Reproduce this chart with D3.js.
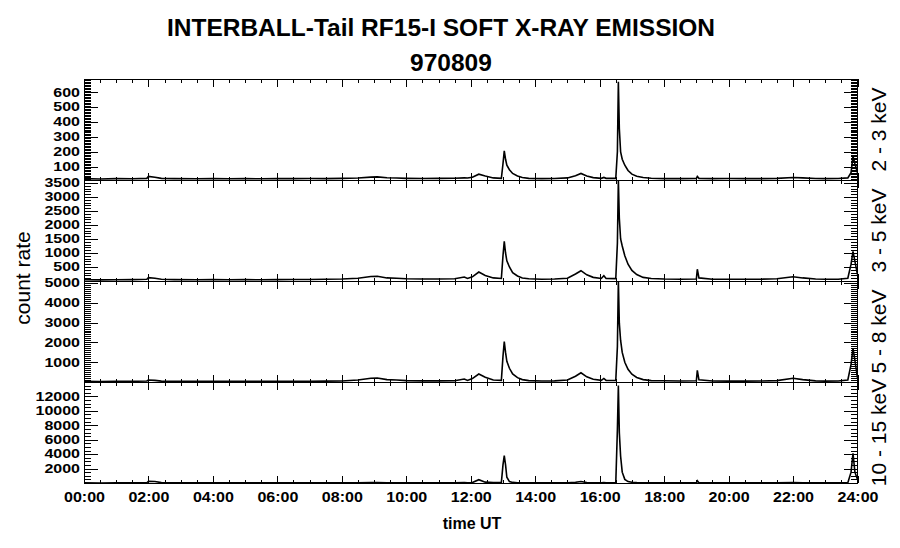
<!DOCTYPE html>
<meta charset="utf-8">
<head>
    <title>INTERBALL-Tail RF15-I SOFT X-RAY EMISSION</title>
    <style>
        body { margin: 0; background: #fff; }
        text { font-family: "Liberation Sans", Arial, sans-serif; fill: #000; }
    </style>
</head>
<body>
<svg id="chart" width="900" height="548"></svg>
<script src="https://d3js.org/d3.v7.min.js"></script>
<script>

    // time in hours UT
    var hours = [0, 0.5, 1, 1.5, 1.95, 2, 2.2, 2.4, 2.8, 3.5,
        4, 4.5, 5, 5.5, 6, 6.5, 7, 7.5, 8, 8.5,
        8.9, 9.1, 9.4, 9.7, 10, 10.5, 11, 11.5, 11.8, 11.9,
        12.05, 12.25, 12.45, 12.7, 12.95, 13, 13.04, 13.08, 13.12, 13.2,
        13.3, 13.45, 13.6, 13.8, 14.2, 14.6, 15, 15.25, 15.42, 15.6,
        15.8, 16.05, 16.13, 16.2, 16.5, 16.55, 16.58, 16.61, 16.65, 16.7,
        16.78, 16.88, 17, 17.15, 17.35, 17.6, 18, 18.5, 19, 19.03,
        19.08, 19.5, 20, 20.5, 21, 21.5, 22, 22.3, 22.7, 23,
        23.4, 23.7, 23.8, 23.86, 23.92, 24];

    var rate23 = [20, 18, 20, 19, 22, 35, 30, 22, 20, 19,
        21, 19, 20, 19, 20, 20, 21, 20, 22, 24,
        30, 32, 26, 24, 22, 21, 22, 23, 25, 24,
        30, 50, 38, 25, 22, 120, 206, 150, 110, 80,
        55, 38, 28, 22, 20, 21, 25, 40, 55, 38,
        27, 22, 28, 22, 22, 200, 670, 357, 200, 150,
        110, 75, 50, 36, 28, 23, 20, 20, 22, 35,
        22, 20, 21, 20, 20, 22, 28, 25, 21, 20,
        21, 25, 60, 170, 120, 60];

    var rate35 = [45, 40, 45, 50, 60, 120, 100, 60, 50, 45,
        50, 45, 50, 45, 50, 55, 55, 60, 70, 100,
        160, 170, 110, 100, 80, 70, 70, 80, 140, 90,
        150, 320, 200, 110, 90, 900, 1414, 1000, 720, 500,
        300, 180, 110, 80, 65, 70, 100, 250, 368, 220,
        130, 90, 190, 90, 85, 1346, 3607, 2240, 1500, 1250,
        900, 600, 380, 230, 130, 90, 70, 65, 70, 420,
        110, 65, 60, 60, 65, 80, 150, 110, 70, 60,
        65, 100, 600, 1057, 700, 225];

    var rate58 = [40, 35, 40, 45, 60, 110, 90, 55, 45, 40,
        45, 40, 45, 40, 45, 50, 50, 55, 60, 110,
        200, 210, 130, 110, 80, 65, 65, 75, 157, 90,
        180, 410, 250, 110, 90, 1300, 2040, 1500, 1050, 700,
        420, 230, 130, 80, 60, 65, 110, 300, 475, 270,
        150, 90, 190, 90, 85, 1790, 5090, 2970, 2100, 1500,
        1000, 650, 400, 240, 130, 80, 70, 60, 70, 600,
        120, 60, 55, 55, 60, 80, 200, 130, 65, 55,
        60, 110, 900, 1700, 1100, 200];

    var rate1015 = [20, 10, 15, 20, 40, 250, 200, 60, 20, 15,
        20, 15, 20, 15, 20, 25, 20, 25, 30, 40,
        60, 60, 40, 35, 30, 25, 25, 30, 50, 30,
        60, 460, 120, 50, 60, 2500, 3790, 2500, 800, 200,
        80, 40, 30, 25, 20, 25, 40, 100, 200, 60,
        35, 30, 60, 40, 40, 7400, 13500, 7000, 3700, 1500,
        500, 200, 100, 50, 30, 25, 20, 20, 25, 300,
        30, 20, 20, 20, 20, 25, 60, 40, 25, 20,
        20, 40, 1500, 4100, 1500, 500];

    var bandLabels = ["2 - 3 keV", "3 - 5 keV", "5 - 8 keV", "10 - 15 keV"];
    var yDomains = [[11, 689], [0, 3607], [10, 5090], [0, 14000]];
    var yMajor = [[100, 200, 300, 400, 500, 600],
        [500, 1000, 1500, 2000, 2500, 3000, 3500],
        [1000, 2000, 3000, 4000, 5000],
        [2000, 4000, 6000, 8000, 10000, 12000]];
    var yMinorStep = [10, 100, 100, 500];
    var xTicks = [0, 2, 4, 6, 8, 10, 12, 14, 16, 18, 20, 22, 24];
    var xTickLabels = ["00:00", "02:00", "04:00", "06:00", "08:00", "10:00", "12:00",
        "14:00", "16:00", "18:00", "20:00", "22:00", "24:00"];

    var svg = d3.select("#chart"),
        left = 84, right = 857.5, top0 = 79, ph = 101;

    var x = d3.scaleLinear().domain([0, 24]).range([left, right]);
    var xMinor = d3.range(0, 24.01, 0.5).filter(function (d) { return d % 2 !== 0; });
    var series = [rate23, rate35, rate58, rate1015];

    function noDomain(g) { g.select(".domain").remove(); }

    series.forEach(function (vals, i) {
        var y0 = top0 + i * ph;
        var y = d3.scaleLinear().domain(yDomains[i]).range([y0 + ph, y0]);
        var g = svg.append("g");

        g.append("clipPath").attr("id", "clip" + i)
            .append("rect").attr("x", left).attr("y", y0)
            .attr("width", right - left).attr("height", ph);

        var line = d3.line()
            .x(function (d, j) { return x(hours[j]); })
            .y(function (d) { return y(d); });

        g.append("path").datum(vals)
            .attr("clip-path", "url(#clip" + i + ")")
            .attr("fill", "none").attr("stroke", "#000")
            .attr("stroke-width", 1.6).attr("stroke-linejoin", "miter")
            .attr("d", line);

        var step = yMinorStep[i];
        var yMinor = d3.range(Math.ceil(yDomains[i][0] / step) * step, yDomains[i][1], step);

        var axes = g.append("g").attr("shape-rendering", "crispEdges");

        // left
        axes.append("g").attr("transform", "translate(" + left + ",0)")
            .call(d3.axisLeft(y).tickValues(yMinor).tickSize(-7).tickFormat("")).call(noDomain);
        var la = axes.append("g").attr("transform", "translate(" + left + ",0)")
            .call(d3.axisLeft(y).tickValues(yMajor[i]).tickSize(-14).tickPadding(4)
                .tickFormat(d3.format("d"))).call(noDomain);
        la.selectAll("text")
            .style("font-family", "'Liberation Sans', Arial, sans-serif")
            .attr("font-size", 12).attr("font-weight", "bold")
            .attr("textLength", function (d) { return String(d).length * 8.9; })
            .attr("lengthAdjust", "spacingAndGlyphs");

        // right
        axes.append("g").attr("transform", "translate(" + right + ",0)")
            .call(d3.axisRight(y).tickValues(yMinor).tickSize(-7).tickFormat("")).call(noDomain);
        axes.append("g").attr("transform", "translate(" + right + ",0)")
            .call(d3.axisRight(y).tickValues(yMajor[i]).tickSize(-14).tickFormat("")).call(noDomain);

        // bottom
        axes.append("g").attr("transform", "translate(0," + (y0 + ph) + ")")
            .call(d3.axisBottom(x).tickValues(xMinor).tickSize(-3.5).tickFormat("")).call(noDomain);
        var ba = axes.append("g").attr("transform", "translate(0," + (y0 + ph) + ")")
            .call(d3.axisBottom(x).tickValues(xTicks).tickSize(-7).tickPadding(8)
                .tickFormat(function (d, k) { return i === 3 ? xTickLabels[k] : ""; }))
            .call(noDomain);
        ba.selectAll("text")
            .style("font-family", "'Liberation Sans', Arial, sans-serif")
            .attr("font-size", 15).attr("font-weight", "bold")
            .attr("textLength", 41).attr("lengthAdjust", "spacingAndGlyphs");

        // top
        axes.append("g").attr("transform", "translate(0," + y0 + ")")
            .call(d3.axisTop(x).tickValues(xMinor).tickSize(-4).tickFormat("")).call(noDomain);
        axes.append("g").attr("transform", "translate(0," + y0 + ")")
            .call(d3.axisTop(x).tickValues(xTicks).tickSize(-8).tickFormat("")).call(noDomain);

        axes.append("rect").attr("x", left).attr("y", y0)
            .attr("width", right - left).attr("height", ph)
            .attr("fill", "none").attr("stroke", "#000");

        svg.append("text")
            .attr("transform", "translate(886," + (y0 + ph / 2) + ") rotate(-90)")
            .attr("text-anchor", "middle").attr("font-size", 21)
            .text(bandLabels[i]);
    });

    svg.append("text").attr("x", 441).attr("y", 36).attr("text-anchor", "middle")
        .attr("font-size", 24.5).attr("font-weight", "bold")
        .text("INTERBALL-Tail RF15-I SOFT X-RAY EMISSION");
    svg.append("text").attr("x", 451).attr("y", 71).attr("text-anchor", "middle")
        .attr("font-size", 24.5).attr("font-weight", "bold")
        .text("970809");

    svg.append("text")
        .attr("transform", "translate(30,278) rotate(-90)")
        .attr("text-anchor", "middle").attr("font-size", 21)
        .text("count rate");

    svg.append("text").attr("x", 472).attr("y", 529).attr("text-anchor", "middle")
        .attr("font-size", 16).attr("font-weight", "bold")
        .text("time UT");

</script>
</body>
